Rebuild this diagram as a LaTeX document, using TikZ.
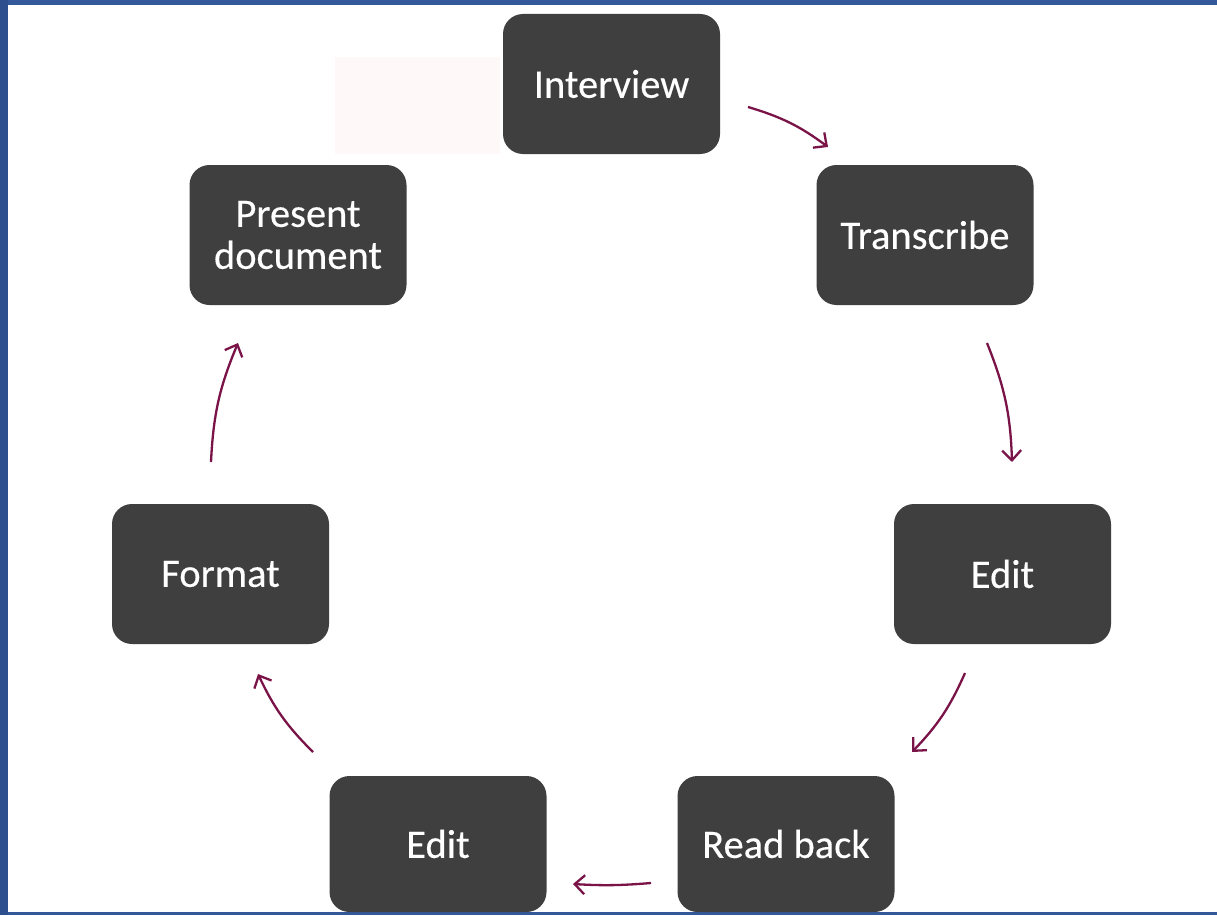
\documentclass[tikz,border=0pt]{standalone}
\usepackage{fontspec}
\setmainfont{Carlito}[FakeBold=0.3]
\usetikzlibrary{arrows.meta}
\definecolor{boxgray}{HTML}{3F3F3F}
\definecolor{arrowred}{HTML}{7A1448}
\definecolor{frameblue}{HTML}{34599B}
\definecolor{frameleft}{HTML}{2E4F8E}
\definecolor{faintpink}{HTML}{FFF8F8}
\tikzset{
  stepbox/.style={rectangle, rounded corners=20pt, fill=boxgray, text=white,
    minimum width=217pt, minimum height=140pt, inner sep=0pt, align=center,
    font=\fontsize{40.5}{42}\selectfont},
  lowbox/.style={stepbox, minimum height=136pt},
  flow/.style={draw=arrowred, line width=2.3pt, bend left=10,
    -{Straight Barb[length=10pt,width=19pt,line width=2.3pt]}}
}
\begin{document}
\begin{tikzpicture}[x=1pt,y=-1pt]
\useasboundingbox (0,0) rectangle (1217,915);
% frame
\fill[frameblue] (0,0) rectangle (1217,915);
\fill[frameleft] (0,0) rectangle (8,915);
\fill[white] (8,5) rectangle (1217,912);
\fill[faintpink] (335,57) rectangle (500,154);
% nodes
\node[stepbox] (interview) at (611.5,84) {Interview};
\node[stepbox] (transcribe) at (925,235) {Transcribe};
\node[stepbox] (edita) at (1002.5,574) {Edit};
\node[lowbox] (readback) at (786,844) {Read back};
\node[lowbox] (editb) at (438,844) {Edit};
\node[stepbox] (format) at (220.5,574) {Format};
\node[stepbox] (present) at (298,235) {Present\\document};
% arrow end points
\coordinate (a1s) at (748,107); \coordinate (a1e) at (828,147);
\coordinate (a2s) at (987,343); \coordinate (a2e) at (1012,462);
\coordinate (a3s) at (965,673); \coordinate (a3e) at (912,752);
\coordinate (a4s) at (651,883); \coordinate (a4e) at (573,884);
\coordinate (a5s) at (313,752); \coordinate (a5e) at (258,674);
\coordinate (a6s) at (211,462); \coordinate (a6e) at (238,343);
\draw[flow] (a1s) to (a1e);
\draw[flow] (a2s) to (a2e);
\draw[flow] (a3s) to (a3e);
\draw[flow, bend left=4] (a4s) to (a4e);
\draw[flow] (a5s) to (a5e);
\draw[flow] (a6s) to (a6e);
\end{tikzpicture}
\end{document}
